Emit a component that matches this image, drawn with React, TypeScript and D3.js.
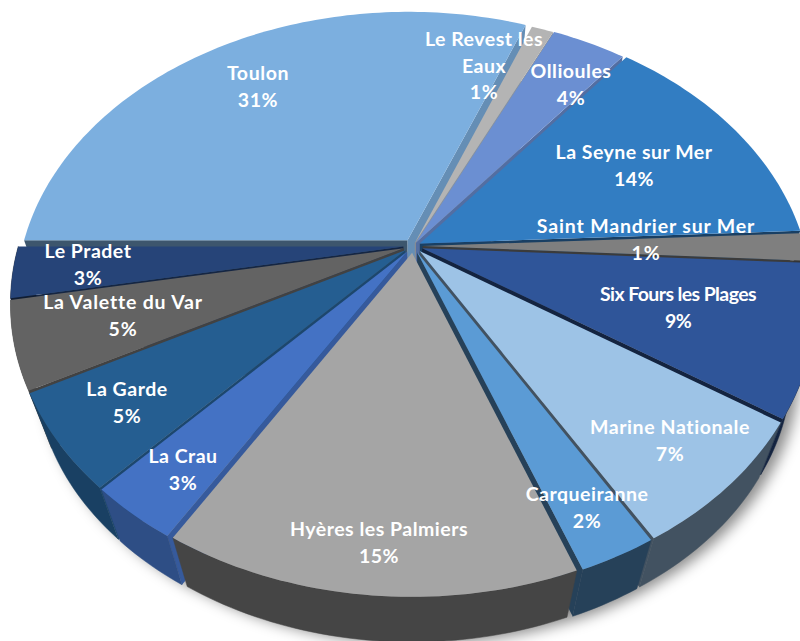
import React from "react";
import * as d3 from "d3";

const towns = ["Toulon","Le Revest les Eaux","Ollioules","La Seyne sur Mer","Saint Mandrier sur Mer","Six Fours les Plages","Marine Nationale","Carqueiranne","Hyères les Palmiers","La Crau","La Garde","La Valette du Var","Le Pradet"];
const shares = [30.9,1.1,3.7,13.6,1.6,8.5,7.3,2.7,14.3,3.2,5.4,4.9,2.9];
const percentLabels = ["31%","1%","4%","14%","1%","9%","7%","2%","15%","3%","5%","5%","3%"];
const colors = ["#7cafdf","#b4b4b4","#6b8fd2","#327dc2","#7f7f7f","#2f5599","#9dc3e6","#5b9bd5","#a5a5a5","#4472c4","#255e91","#636363","#264478"];
const explosions = [0.025,0.012,0.014,0.02,0.025,0.025,0.025,0.025,0.025,0.025,0.025,0.025,0.025];
const labelLines: string[][] = [["Toulon"],["Le Revest les","Eaux"],["Ollioules"],["La Seyne sur Mer"],["Saint Mandrier sur Mer"],["Six Fours les Plages"],["Marine Nationale"],["Carqueiranne"],["Hyères les Palmiers"],["La Crau"],["La Garde"],["La Valette du Var"],["Le Pradet"]];
const labelAnchors: [number, number][] = [[258,74],[484,40],[571,72],[634,153],[646,227],[678,295],[670,428],[587,495],[379,530],[183,457],[127,390],[123,303],[88,252]];
const labelTracking = [0.6,0.5,0.5,0.5,0.85,-0.6,0.6,0.5,0.5,0.5,0.5,0.8,0.5];

const W = 800, H = 641;
const CX = 413, CY = 246, RX = 385, RY = 274.6, K = 0.193;
const VX = 413, VY = 1350, DEPTH = 0.94;

type P = [number, number];
const project = (u: number, v: number): P => {
  const d = 1 + K * v;
  return [CX + (RX * u) / d, CY - (RY * v) / d];
};
const extrude = ([x, y]: P): P => [DEPTH * x + (1 - DEPTH) * VX, DEPTH * y + (1 - DEPTH) * VY];
const darken = (c: string, f: number) => {
  const r = d3.rgb(c);
  return d3.rgb(r.r * f, r.g * f, r.b * f).formatHex();
};
const poly = (pts: P[]) => (d3.line()(pts) as string) + "Z";

const pieGen = d3.pie<number>().sort(null).startAngle((3 * Math.PI) / 2).endAngle((7 * Math.PI) / 2);
const arcs = pieGen(shares);

const sideFactor = (phi: number) => 0.42 + 0.4 * Math.max(0, Math.cos(phi - (100 * Math.PI) / 180));
const faces = (phi: number) => Math.cos(phi) < 0;
const rimFactor = (mid: number) => {
  const deg = ((mid * 180) / Math.PI) % 360;
  return deg > 205 && deg < 260 ? 0.68 : 0.42;
};

const slices = arcs.map((a, i) => {
  const mid = (a.startAngle + a.endAngle) / 2;
  const ox = explosions[i] * Math.sin(mid), oy = explosions[i] * Math.cos(mid);
  const n = Math.max(4, Math.ceil((a.endAngle - a.startAngle) / 0.02));
  const rim: P[] = d3.range(n + 1).map((k) => {
    const t = a.startAngle + ((a.endAngle - a.startAngle) * k) / n;
    return project(Math.sin(t) + ox, Math.cos(t) + oy);
  });
  const apex = project(ox, oy);
  const rimLow = rim.map(extrude);
  const apexLow = extrude(apex);
  const spansBack = a.startAngle < 2 * Math.PI && a.endAngle > 2 * Math.PI;
  return {
    i, mid, depth: spansBack ? 2 : Math.cos(mid) + oy,
    top: poly([apex, ...rim]),
    wall: poly([...rim, ...rimLow.slice().reverse()]),
    sideA: poly([apex, rim[0], rimLow[0], apexLow]),
    sideB: poly([apex, rim[n], rimLow[n], apexLow]),
    phiA: a.startAngle - Math.PI / 2,
    phiB: a.endAngle + Math.PI / 2,
    rimVisible: Math.cos(mid) < 0.2,
    color: colors[i],
    hull: [...rimLow],
  };
});
const ordered = slices.slice().sort((a, b) => b.depth - a.depth);
const silhouette = poly(d3.polygonHull(slices.filter((s) => s.rimVisible).flatMap((s) => s.hull)) as P[]);

export default function App() {
  return (
    <svg width={W} height={H} viewBox={`0 0 ${W} ${H}`} style={{ position: "fixed", left: 0, top: 0, background: "#fff" }}>
      <defs>
        <filter id="soft" x="-10%" y="-10%" width="120%" height="120%"><feGaussianBlur stdDeviation="7" /></filter>
      </defs>
      <path d={silhouette} fill="#000" fillOpacity={0.45} filter="url(#soft)" transform="translate(8,2)" />
      {ordered.map((s) => (
        <g key={s.i}>
          {faces(s.phiA) && <path d={s.sideA} fill={darken(s.color, sideFactor(s.phiA))} />}
          {faces(s.phiB) && <path d={s.sideB} fill={darken(s.color, sideFactor(s.phiB))} />}
          {s.rimVisible && <path d={s.wall} fill={darken(s.color, rimFactor(s.mid))} stroke={darken(s.color, rimFactor(s.mid))} strokeWidth={0.5} />}
          <path d={s.top} fill={s.color} />
        </g>
      ))}
      {towns.map((town, i) => {
        const [x, y] = labelAnchors[i];
        const lines = [...labelLines[i], percentLabels[i]];
        return (
          <text key={town} x={x} textAnchor="middle" fontFamily="Lato, 'Open Sans', sans-serif" fontWeight={700} fontSize={19.5} letterSpacing={labelTracking[i]} fill="#fff">
            {lines.map((l, k) => (
              <tspan key={k} x={x} y={y + 6 + k * 26.5}>{l}</tspan>
            ))}
          </text>
        );
      })}
    </svg>
  );
}
